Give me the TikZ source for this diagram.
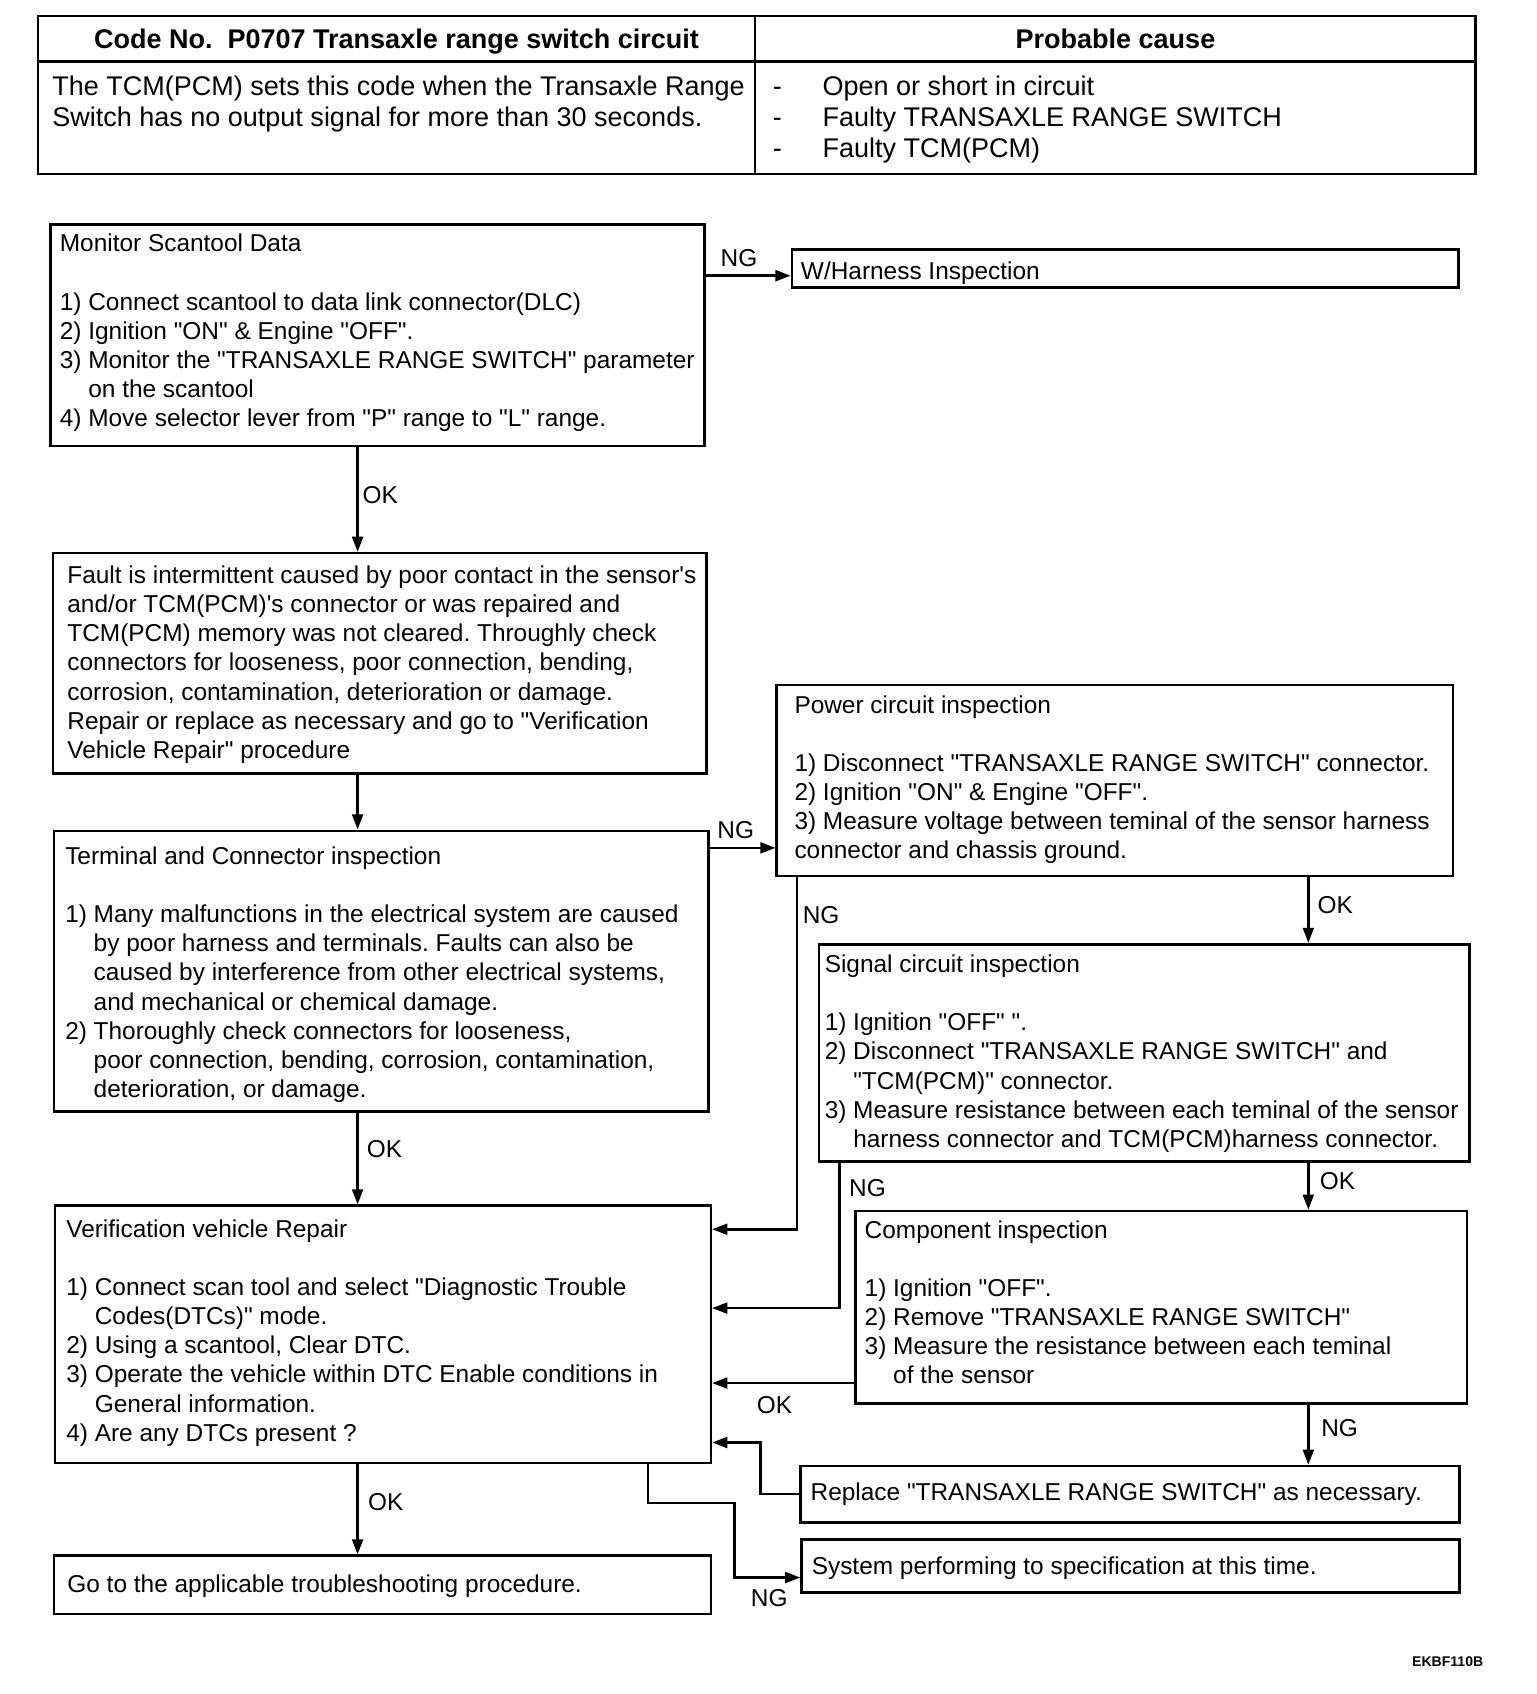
\documentclass[tikz,border=0pt]{standalone}
\usepackage{fontspec}
\setmainfont{Liberation Sans}[Ligatures=TeXOff]
\usetikzlibrary{arrows.meta,calc,fit}
\frenchspacing
\newcommand{\hangpad}{\phantom{3) }}
\begin{document}
\begin{tikzpicture}[
        x=0.5pt, y=-0.5pt,
        font=\fontsize{11.3}{13.5}\selectfont,
        frame/.style={draw, line width=1.2pt, inner sep=0pt},
        txt/.style={anchor=base west, inner sep=0pt},
        tag/.style={inner sep=0pt},
        head/.style={anchor=base, inner sep=0pt, font=\fontsize{12.5}{14.5}\selectfont\bfseries},
        big/.style={txt, font=\fontsize{12.5}{14.5}\selectfont},
        flow/.style={-{Triangle[length=7pt,width=5pt]}, line width=1.2pt}
    ]
        \useasboundingbox (0,0) rectangle (1422,1568);

        % Header table.
        \node[frame, fit={(35,15) (699,57)}] (codecell) {};
        \node[frame, fit={(699,15) (1366,57)}] (causecell) {};
        \node[frame, fit={(35,57) (699,161)}] (desccell) {};
        \node[frame, fit={(699,57) (1366,161)}] (listcell) {};
        \node[head] (codetitle) at ($(codecell.center)+(0,9)$) {Code No.\ \ P0707 Transaxle range switch circuit};
        \node[head] (causetitle) at ($(causecell.center)+(0,9)$) {Probable cause};
        \node[big] (desctext) at (48,88) {\parbox[t]{360pt}{The TCM(PCM) sets this code when the Transaxle Range\\
            Switch has no output signal for more than 30 seconds.}};
        \node[big] (causetext) at (715,88) {\parbox[t]{320pt}{\makebox[23pt][l]{-}Open or short in circuit\\
            \makebox[23pt][l]{-}Faulty TRANSAXLE RANGE SWITCH\\
            \makebox[23pt][l]{-}Faulty TCM(PCM)}};

        % Boxes of the flow chart.
        \node[frame, fit={(47,208) (652,413)}] (mon) {};
        \node[frame, fit={(733,231) (1350,266)}] (harness) {};
        \node[frame, fit={(49,512) (654,716)}] (fault) {};
        \node[frame, fit={(50,769) (656,1029)}] (term) {};
        \node[frame, fit={(719,634) (1345,811)}] (power) {};
        \node[frame, fit={(758,874) (1360,1075)}] (signal) {};
        \node[frame, fit={(792,1121) (1358,1299)}] (comp) {};
        \node[frame, fit={(51,1116) (658,1354)}] (verify) {};
        \node[frame, fit={(741,1357) (1351,1409)}] (replace) {};
        \node[frame, fit={(742,1425) (1351,1474)}] (system) {};
        \node[frame, fit={(50,1440) (658,1494)}] (goto) {};

        % Texts of the boxes.
        \node[txt] (montext) at (55,233) {\parbox[t]{340pt}{Monitor Scantool Data\\[13.5pt]
            1) Connect scantool to data link connector(DLC)\\
            2) Ignition "ON" \& Engine "OFF".\\
            3) Monitor the "TRANSAXLE RANGE SWITCH" parameter\\
            \hangpad on the scantool\\
            4) Move selector lever from "P" range to "L" range.}};
        \node[txt] (harnesstext) at (741,259) {W/Harness Inspection};
        \node[txt] (faulttext) at (62,540) {\parbox[t]{340pt}{Fault is intermittent caused by poor contact in the sensor's\\
            and/or TCM(PCM)'s connector or was repaired and\\
            TCM(PCM) memory was not cleared. Throughly check\\
            connectors for looseness, poor connection, bending,\\
            corrosion, contamination, deterioration or damage.\\
            Repair or replace as necessary and go to "Verification\\
            Vehicle Repair" procedure}};
        \node[txt] (termtext) at (60,800) {\parbox[t]{340pt}{Terminal and Connector inspection\\[13.5pt]
            1) Many malfunctions in the electrical system are caused\\
            \hangpad by poor harness and terminals. Faults can also be\\
            \hangpad caused by interference from other electrical systems,\\
            \hangpad and mechanical or chemical damage.\\
            2) Thoroughly check connectors for looseness,\\
            \hangpad poor connection, bending, corrosion, contamination,\\
            \hangpad deterioration, or damage.}};
        \node[txt] (powertext) at (735,660) {\parbox[t]{340pt}{Power circuit inspection\\[13.5pt]
            1) Disconnect "TRANSAXLE RANGE SWITCH" connector.\\
            2) Ignition "ON" \& Engine "OFF".\\
            3) Measure voltage between teminal of the sensor harness\\
            connector and chassis ground.}};
        \node[txt] (signaltext) at (763,900) {\parbox[t]{340pt}{Signal circuit inspection\\[13.5pt]
            1) Ignition "OFF" ".\\
            2) Disconnect "TRANSAXLE RANGE SWITCH" and\\
            \hangpad "TCM(PCM)" connector.\\
            3) Measure resistance between each teminal of the sensor\\
            \hangpad harness connector and TCM(PCM)harness connector.}};
        \node[txt] (comptext) at (800,1146) {\parbox[t]{340pt}{Component inspection\\[13.5pt]
            1) Ignition "OFF".\\
            2) Remove "TRANSAXLE RANGE SWITCH"\\
            3) Measure the resistance between each teminal\\
            \hangpad of the sensor}};
        \node[txt] (verifytext) at (61,1145) {\parbox[t]{340pt}{Verification vehicle Repair\\[13.5pt]
            1) Connect scan tool and select "Diagnostic Trouble\\
            \hangpad Codes(DTCs)" mode.\\
            2) Using a scantool, Clear DTC.\\
            3) Operate the vehicle within DTC Enable conditions in\\
            \hangpad General information.\\
            4) Are any DTCs present ?}};
        \node[txt] (replacetext) at (750,1389) {Replace "TRANSAXLE RANGE SWITCH" as necessary.};
        \node[txt] (systemtext) at (751,1457) {System performing to specification at this time.};
        \node[txt] (gototext) at (62,1474) {Go to the applicable troubleshooting procedure.};

        % Columns of the vertical arrows.
        \coordinate (leftcol) at (331,0);
        \coordinate (rightcol) at (1211,0);

        % Main line on the left.
        \coordinate (monng) at ($(harness.south west)+(0,-12)$);
        \draw[flow] (monng -| mon.east) -- (monng);
        \draw[flow] (mon.south -| leftcol) -- (fault.north -| leftcol);
        \draw[flow] (fault.south -| leftcol) -- (term.north -| leftcol);
        \draw[flow] (term.south -| leftcol) -- (verify.north -| leftcol);
        \draw[flow] (verify.south -| leftcol) -- (goto.north -| leftcol);

        % Circuit inspections on the right.
        \coordinate (termng) at ($(term.north east)+(0,17)$);
        \draw[flow] (termng) -- (termng -| power.west);
        \draw[flow] (power.south -| rightcol) -- (signal.north -| rightcol);
        \draw[flow] ($(power.south west)+(20,0)$) |- ($(verify.north east)+(0,23)$);
        \draw[flow] (signal.south -| rightcol) -- (comp.north -| rightcol);
        \draw[flow] ($(signal.south west)+(20,0)$) |- ($(verify.north east)+(0,96)$);
        \draw[flow] (comp.south -| rightcol) -- (replace.north -| rightcol);
        \coordinate (compok) at ($(comp.south west)+(0,-20)$);
        \draw[flow] (compok) -- (compok -| verify.east);

        % Back to the verification and out of it.
        \draw[flow] (replace.west) -- ++(-36,0) |- ($(verify.south east)+(0,-20)$);
        \coordinate (sysin) at ($(system.south west)+(0,-15)$);
        \draw[flow] ($(verify.south west)+(550,0)$) -- ++(0,36) -| ($(sysin)+(-61,0)$) -- (sysin);

        % Labels of the arrows.
        \node[tag] (ngharness) at (684,239) {NG};
        \node[tag] (okfault) at (352,458) {OK};
        \node[tag] (ngpower) at (681,768) {NG};
        \node[tag] (ngpowerout) at (760,847) {NG};
        \node[tag] (oksignal) at (1236,838) {OK};
        \node[tag] (okterm) at (356,1064) {OK};
        \node[tag] (ngsignal) at (803,1100) {NG};
        \node[tag] (okcomp) at (1238,1093) {OK};
        \node[tag] (okcompout) at (717,1301) {OK};
        \node[tag] (ngcomp) at (1240,1322) {NG};
        \node[tag] (okverify) at (357,1390) {OK};
        \node[tag] (ngverify) at (712,1479) {NG};

        \node[tag, font=\fontsize{6.5}{8}\selectfont\bfseries] (figid) at (1340,1538) {EKBF110B};
    \end{tikzpicture}
\end{document}
